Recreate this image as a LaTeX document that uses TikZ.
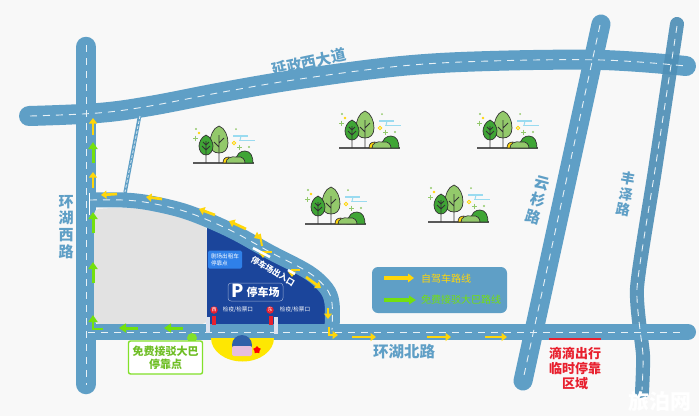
\documentclass[tikz,border=0pt]{standalone}
\usepackage{fontspec}
\setmainfont{Noto Sans CJK SC}
\usetikzlibrary{arrows.meta, shapes.geometric}
\definecolor{roadblue}{HTML}{5F9FC6}
\definecolor{roaddark}{HTML}{4F8FB6}
\definecolor{lotblue}{HTML}{1B459B}
\definecolor{boxblue}{HTML}{2F80E8}
\definecolor{lotgray}{HTML}{E2E2E2}
\definecolor{backcol}{HTML}{F8F8F8}
\definecolor{ylwline}{HTML}{FFD60A}
\definecolor{grnline}{HTML}{74E00E}
\definecolor{boxgreen}{HTML}{82E02A}
\definecolor{marksred}{HTML}{E8202E}
\definecolor{leaflight}{HTML}{93C96B}
\definecolor{leafdark}{HTML}{3FA535}
\definecolor{cloudblue}{HTML}{9ADBF0}
\definecolor{logopink}{HTML}{E6BEDC}
\newcommand{\fs}[1]{\fontsize{#1}{#1}\selectfont}
\tikzset{
	road/.style={line width=#1, color=roadblue, line cap=round},
	roadmark/.style={line width=.9, color=white!85!roadblue, dash pattern=on 7 off 6},
	ylw/.style={line width=2.7, color=ylwline, -{Triangle[width=8,length=5.5]}},
	grn/.style={line width=3, color=grnline, -{Triangle[width=9,length=7]}},
	txt/.style={inner sep=0, align=center, text=#1},
	treeline/.style={draw=black!80, line width=.7},
	grove/.pic={
		\draw [color=black!65, line width=1.1] (0,0) -- (61,0);
		\draw [treeline, fill=leaflight] (26,-37) .. controls (32,-35) and (35,-27) .. (35,-20)
			.. controls (35,-13) and (31,-10) .. (26,-10) .. controls (21,-10) and (17,-13) .. (17,-20)
			.. controls (17,-27) and (20,-35) .. (26,-37);
		\draw [treeline, line width=.8] (26,0) -- (26,-28) (26,-16) -- (21,-21) (26,-20) -- (31,-25);
		\draw [treeline, fill=leafdark] (13,-28) .. controls (18,-26) and (20,-20) .. (20,-17)
			.. controls (20,-12) and (17,-8) .. (13,-8) .. controls (9,-8) and (6,-12) .. (6,-17)
			.. controls (6,-20) and (8,-26) .. (13,-28);
		\draw [treeline, line width=.8] (13,0) -- (13,-22) (13,-13) -- (9,-17) (13,-13) -- (17,-17) (13,-18) -- (10,-21) (13,-18) -- (16,-21);
		\draw [treeline, fill=leafdark] (42,0) .. controls (43,-10) and (48,-12) .. (52,-12) .. controls (58,-12) and (60,-6) .. (60,0) -- cycle;
		\draw [treeline, fill=ylwline] (30,0) .. controls (30,-4) and (32,-6) .. (36,-6) -- (36,0) -- cycle;
		\draw [treeline, fill=leaflight] (33,0) .. controls (33,-5) and (38,-7) .. (44,-6) .. controls (50,-7) and (52,-3) .. (52,0) -- cycle;
		\draw [color=cloudblue, line width=1.5] (40,-27) -- (55,-27) (46,-22.5) -- (62,-22.5);
		\draw [color=cloudblue, line width=1] (48,-27) -- (47,-22.5);
		\draw [color=ylwline, line width=.8] (41,-20) circle (1.7);
		\fill [leaflight] (3,-34) circle (1.2) (43,-34) circle (1) (56,-16) circle (1.2);
		\fill [ylwline] (6,-30) circle (1.3);
		\draw [color=leaflight, line width=.7] (0,-25) -- (5,-25) (2.5,-27.5) -- (2.5,-22.5) (44,-16) -- (49,-16) (46.5,-18.5) -- (46.5,-13.5);
	},
}
\begin{document}
\begin{tikzpicture}[x=1pt, y=-1pt]
	\fill [backcol] (0,0) rectangle (699,416);
	\useasboundingbox (0,0) rectangle (699,416);

	\draw [road=20] plot [smooth, tension=.6] coordinates {(29,116) (98,113) (150,106) (223,92) (300,79) (401,66) (490,61) (602,60) (686,66)};
	\draw [road=20.5] (86,47) -- (86,384);
	\draw [road=19] (601,24) -- (523,381);
	\draw [road=3.5, line cap=butt] (140,114) -- (125,193);
	\draw [roaddark, line width=14, line cap=round, opacity=.92] plot [smooth, tension=.35] coordinates {(677,24) (655,170) (637,288) (643,355) (642,392)};

	\fill [lotgray, rounded corners=5] (94,324) -- (94,209) -- (130,207) -- (170,212) -- (207,226) -- (207,324) -- cycle;
	\fill [lotblue] (207,325) -- (207,213) -- (230,230) -- (270,252) -- (317,277) -- (332,303) -- (332,330) -- cycle;
	\draw [road=15, line cap=butt] plot [smooth, tension=.55] coordinates {(88,200) (123,200) (150,203) (187,212) (230,230) (270,252) (308,272) (326,288) (332,303) (332,330)};
	\draw [road=16] (86,332) -- (688,332);

	\draw [roadmark] plot [smooth, tension=.6] coordinates {(30,116) (98,113) (150,106) (223,92) (300,79) (401,66) (490,61) (602,60) (686,66)};
	\draw [roadmark] (86,45) -- (86,385);
	\draw [roadmark] (600,25) -- (523,380);
	\draw [roadmark] plot [smooth, tension=.35] coordinates {(677,26) (655,170) (637,288) (643,355) (642,390)};
	\draw [roadmark] plot [smooth, tension=.55] coordinates {(90,200) (123,200) (150,203) (187,212) (230,230) (270,252) (308,272) (326,288) (332,303) (332,330)};
	\draw [roadmark] (88,332) -- (685,332);
	\draw [roadmark, line width=.8, dash pattern=on 3 off 2] (140,116) -- (125,192);
	\draw [white, line width=.8] (89,193) -- (89,215);

	\draw [ylw] (93,135) -- (93,118);
	\draw [ylw] (93,188) -- (93,172);
	\draw [ylw] (117,194) -- (101,195);
	\draw [ylw] (162,199) -- (146,197);
	\draw [ylw] (215,215) -- (199,209);
	\draw [ylw] (246,229) -- (229,221);
	\draw [ylw, line width=2] (262,246) -- (260,235) -- (254,238);
	\draw [ylw, line width=2] (272,252) -- (263,252) -- (263,258);
	\draw [ylw, line width=2] (300,270) -- (292,270) -- (292,277);
	\draw [ylw] (306,277) -- (321,288);
	\draw [ylw] (328,308) -- (328,319);
	\draw [ylw, line width=2] (329,327) -- (329,335) -- (338,335);
	\draw [ylw] (352,337) -- (376,337);
	\draw [ylw] (427,337) -- (451,337);
	\draw [ylw] (485,337) -- (507,337);

	\draw [grn] (93,163) -- (93,142);
	\draw [grn] (93,233) -- (93,212);
	\draw [grn] (93,283) -- (93,262);
	\draw [grn, line width=2] (103,329) -- (93,329) -- (93,315);
	\draw [grn] (138,328) -- (119,328);
	\draw [grn] (183,328) -- (164,328);

	\draw [white, line width=2.5] (253,248) -- (270,257);
	\draw [white, line width=2.5] (288,270) -- (295,274);

	\node [txt=roadblue, font=\fs{15}\bfseries, rotate=12] (yanzheng) at (309,62) {延政西大道};
	\node [txt=roadblue, font=\fs{15}\bfseries] (huxi) at (66,227) {环\\[1.8pt]湖\\[1.8pt]西\\[1.8pt]路};
	\node [txt=roadblue, font=\fs{15}\bfseries, rotate=-15] (yunshan) at (538,200) {云\\[2.5pt]杉\\[2.5pt]路};
	\node [txt=roadblue, font=\fs{14}\bfseries, rotate=-10] (fengze) at (626,194) {丰\\[1.5pt]泽\\[1.5pt]路};
	\node [txt=roadblue, font=\fs{15.5}\bfseries] (hubei) at (404,352) {环湖北路};

	\node [fill=boxblue, rounded corners=1.5, minimum width=34, minimum height=18, inner sep=0] (taxibox) at (225,259.5) {};
	\node [txt=white, font=\fs{5.6}, align=left] (taxi) at (taxibox) {剧场出租车\\[1.5pt]停靠点};
	\node [txt=white, font=\fs{8.2}\bfseries, rotate=-31] (gate) at (273,271) {停车场出入口};
	\node [draw=white!55!lotblue, line width=.5, rounded corners=3, minimum width=55, minimum height=18, inner sep=0] (parkbox) at (255.5,292) {};
	\node [txt=white, font=\fs{18}\bfseries] (parkp) at (238,291) {P};
	\node [txt=white, font=\fs{11}\bfseries] (park) at (263,292.5) {停车场};

	\node [circle, fill=marksred, minimum size=7.5, inner sep=0, text=white, font=\fs{5}] (west) at (214,310) {西};
	\node [circle, fill=marksred, minimum size=7.5, inner sep=0, text=white, font=\fs{5}] (east) at (270,310) {东};
	\node [txt=white, font=\fs{5.6}] (checkw) at (238,310) {检疫/检票口};
	\node [txt=white, font=\fs{5.6}] (checke) at (295,310) {检疫/检票口};
	\fill [marksred] (212,316) rectangle (216,325);
	\fill [marksred] (269,316) rectangle (272.5,325);
	\fill [white!85!lotblue] (206,317) rectangle (210,333);
	\fill [white!85!lotblue] (273.5,317) rectangle (278,334);

	\fill [yellow!90!orange] (211,338) arc [start angle=180, end angle=0, x radius=31.5, y radius=23.5] -- cycle;
	\fill [lotblue!70!roadblue] (242,345) circle (10);
	\fill [logopink, rounded corners=2] (232,346) rectangle (252,356);
	\node [star, star points=5, fill=red, minimum size=8, inner sep=0] (redstar) at (257,350) {};

	\fill [boxgreen] (192,338) circle (5);
	\node [draw=boxgreen, line width=1.4, fill=white, rounded corners=2, minimum width=74, minimum height=33, inner sep=0] (busbox) at (165.5,357.5) {};
	\node [txt=boxgreen!85!black, font=\fs{11}\bfseries] (busstop) at (busbox) {免费接驳大巴\\[2pt]停靠点};

	\node [fill=roadblue, rounded corners=6, minimum width=135, minimum height=46, inner sep=0] (legend) at (439.5,290) {};
	\draw [ylw, line width=3.2, -{Triangle[width=8.5,length=6]}] (384,278) -- (414,278);
	\draw [grn, line width=3.2, -{Triangle[width=8.5,length=7]}] (384,300) -- (416,300);
	\node [txt=ylwline, font=\fs{10}, anchor=west] (selfdrive) at (421,278.5) {自驾车路线};
	\node [txt=grnline, font=\fs{10}, anchor=west] (freebus) at (421,300) {免费接驳大巴路线};

	\draw [marksred, line width=1.8] (549,339) -- (601,339);
	\node [txt=marksred, font=\fs{13}\bfseries] (didi) at (575,368) {滴滴出行\\[2pt]临时停靠\\[2pt]区域};

	\node [txt=white, font=\fs{21}\bfseries] (mark) at (660,402) {旅泊网};

	\pic at (193,163) {grove};
	\pic at (339,148) {grove};
	\pic at (305,224) {grove};
	\pic at (477,148) {grove};
	\pic at (428,222) {grove};
\end{tikzpicture}
\end{document}
